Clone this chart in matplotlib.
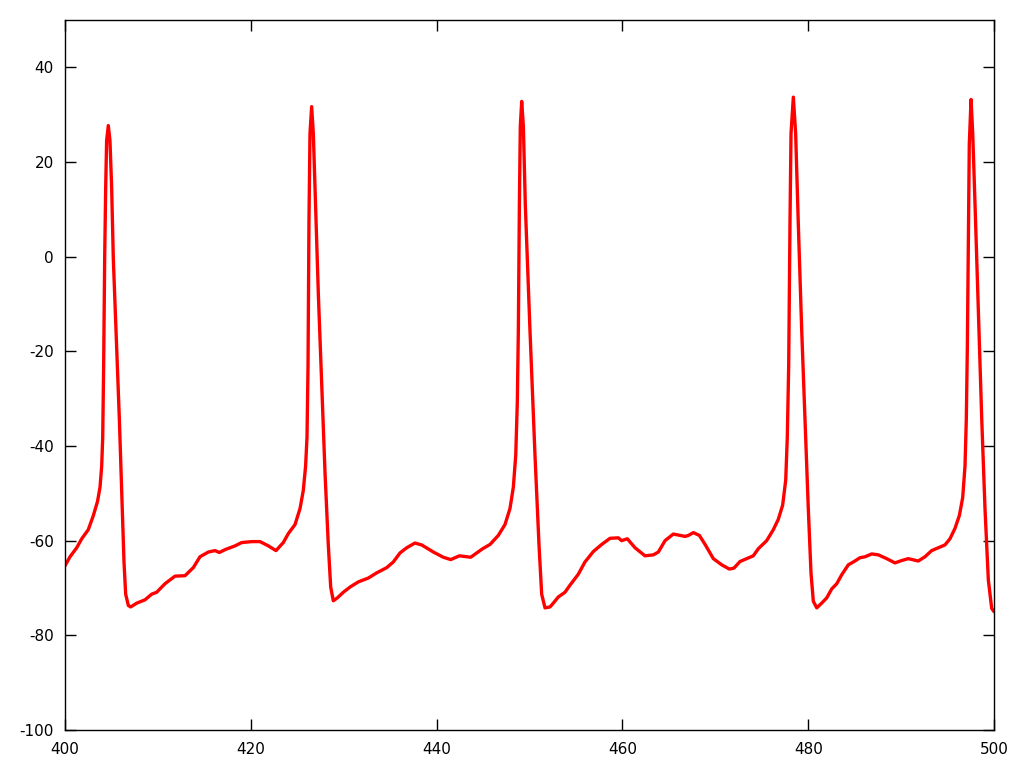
import matplotlib
matplotlib.use("Agg")
import matplotlib.pyplot as plt

plt.rcParams["axes.unicode_minus"] = False  # gnuplot prints a plain hyphen

# membrane potential trace (time in ms, voltage in mV)
t_ms = [
    400.0, 400.54, 401.26, 401.8, 402.5, 403.05, 403.5, 403.77, 403.95, 404.06,
    404.16, 404.27, 404.38, 404.48, 404.66, 404.84, 405.02, 405.2, 405.56, 405.85,
    406.1, 406.35, 406.53, 406.82, 407.07, 407.72, 408.61, 409.33, 409.87, 410.76,
    411.84, 412.92, 413.81, 414.53, 415.43, 416.15, 416.61, 417.22, 418.3, 419.02,
    420.1, 420.99, 421.89, 422.71, 423.5, 424.04, 424.76, 425.3, 425.65, 425.9,
    426.05, 426.16, 426.26, 426.37, 426.55, 426.73, 426.91, 427.27, 427.63, 427.99,
    428.34, 428.6, 428.88, 429.31, 429.96, 430.68, 431.58, 432.65, 433.55, 434.63,
    435.34, 436.06, 436.78, 437.67, 438.39, 439.65, 440.72, 441.52, 442.45, 443.67,
    444.32, 444.96, 445.75, 446.64, 447.36, 447.9, 448.26, 448.52, 448.69, 448.8,
    448.91, 449.01, 449.16, 449.34, 449.55, 450.05, 450.59, 451.02, 451.31, 451.67,
    452.21, 452.56, 453.1, 453.82, 454.36, 455.25, 455.97, 456.87, 457.77, 458.67,
    459.56, 459.92, 460.53, 461.36, 462.43, 463.33, 463.87, 464.59, 465.48, 466.74,
    467.1, 467.64, 468.29, 468.9, 469.79, 470.69, 471.51, 472.01, 472.66, 473.38,
    474.09, 474.63, 475.53, 476.24, 476.78, 477.25, 477.58, 477.75, 477.9, 478.04,
    478.15, 478.4, 478.65, 478.93, 479.3, 479.66, 480.01, 480.3, 480.55, 480.92,
    481.45, 481.99, 482.53, 483.07, 483.61, 484.32, 484.86, 485.58, 486.12, 486.84,
    487.55, 488.45, 489.34, 490.06, 490.77, 491.85, 492.57, 493.29, 494.0, 494.72,
    495.26, 495.8, 496.27, 496.63, 496.88, 497.02, 497.13, 497.24, 497.34, 497.53,
    497.71, 497.96, 498.32, 498.68, 499.03, 499.39, 499.75, 500.0,
]
v_mv = [
    -65.3, -63.4, -61.5, -59.6, -57.7, -54.7, -51.7, -48.7, -44.2, -38.1,
    -23.0, -0.4, 14.7, 24.5, 27.7, 24.5, 14.7, -0.4, -19.2, -34.3,
    -49.4, -64.5, -71.3, -73.7, -74.0, -73.2, -72.5, -71.3, -70.9, -69.1,
    -67.5, -67.4, -65.7, -63.4, -62.4, -62.1, -62.5, -61.9, -61.1, -60.4,
    -60.2, -60.2, -61.1, -62.1, -60.4, -58.5, -56.6, -53.2, -49.4, -44.2,
    -38.1, -23.0, 7.2, 26.0, 31.7, 26.0, 14.7, -7.9, -26.8, -45.7,
    -60.8, -69.8, -72.7, -72.1, -70.9, -69.8, -68.7, -67.9, -66.8, -65.7,
    -64.5, -62.6, -61.5, -60.5, -60.9, -62.4, -63.5, -64.0, -63.2, -63.5,
    -62.6, -61.7, -60.8, -58.9, -56.6, -53.2, -48.7, -41.9, -30.6, -15.5,
    10.9, 27.5, 32.8, 27.5, 10.9, -15.5, -41.9, -60.8, -71.3, -74.2,
    -74.0, -73.2, -71.9, -70.9, -69.4, -67.1, -64.5, -62.3, -60.8, -59.5,
    -59.4, -60.0, -59.6, -61.5, -63.2, -63.0, -62.4, -60.0, -58.6, -59.1,
    -58.9, -58.3, -58.9, -60.8, -63.8, -65.1, -66.0, -65.8, -64.4, -63.8,
    -63.2, -61.7, -60.0, -57.7, -55.5, -52.5, -47.2, -38.1, -23.0, 7.2,
    26.0, 33.7, 26.0, 7.2, -15.5, -34.3, -53.2, -66.8, -72.8, -74.2,
    -73.2, -72.1, -70.2, -69.1, -67.2, -65.1, -64.5, -63.6, -63.4, -62.8,
    -63.0, -63.8, -64.7, -64.2, -63.8, -64.3, -63.4, -62.1, -61.5, -60.9,
    -59.6, -57.4, -54.7, -50.9, -44.2, -34.3, -19.2, 3.4, 23.8, 33.2,
    26.0, 10.9, -11.7, -34.3, -53.2, -68.3, -74.3, -75.0,
]

x_ticks = [400, 420, 440, 460, 480, 500]
y_ticks = [-100, -80, -60, -40, -20, 0, 20, 40]

fig = plt.figure(figsize=(10.24, 7.68), dpi=100)
ax = fig.add_axes([65 / 1024, 38 / 768, 929 / 1024, 710 / 768])

ax.plot(t_ms, v_mv, color="#ff0000", lw=2.4, solid_joinstyle="round",
        solid_capstyle="round")

ax.set_xlim(400, 500)
ax.set_ylim(-100, 50)
ax.set_xticks(x_ticks)
ax.set_yticks(y_ticks)
# gnuplot look: inward ticks mirrored on all four sides
ax.tick_params(direction="in", length=8, width=1, top=True, right=True,
               labelsize=11, colors="black")
ax.tick_params(axis="x", pad=9)
ax.tick_params(axis="y", pad=8)
for s in ax.spines.values():
    s.set_linewidth(1)
    s.set_color("black")

fig.savefig("out.png", dpi=100)
